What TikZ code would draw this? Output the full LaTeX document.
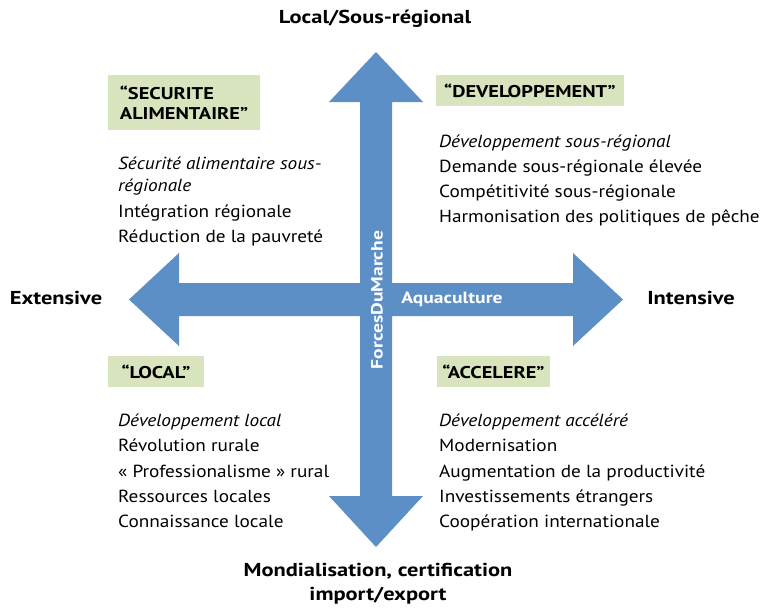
\documentclass[tikz,border=0pt]{standalone}
\usepackage{fontspec}
\setmainfont{PT Sans}[FakeStretch=1.1]
\newfontfamily\widebold{PT Sans}[FakeStretch=1.2]
\definecolor{arrowblue}{RGB}{91,143,198}
\definecolor{boxgreen}{RGB}{215,228,189}
\tikzset{
  item/.style={anchor=base west, inner sep=0pt, font=\fontsize{17.5}{20}\selectfont},
  axis/.style={inner sep=0pt, font=\widebold\fontsize{18.7}{24}\selectfont\bfseries, align=center},
  tag/.style={fill=boxgreen, inner sep=0pt, align=left, font=\widebold\fontsize{17}{20}\selectfont\bfseries},
  onarrow/.style={inner sep=0pt, text=white, font=\widebold\fontsize{16.3}{18}\selectfont\bfseries}
}
\begin{document}
\begin{tikzpicture}[x=1pt,y=-1pt]
\useasboundingbox (0,0) rectangle (760,608);
% cross of arrows
\fill[arrowblue] (376,52) -- (423,102) -- (392,102) -- (392,283) -- (573,283) -- (573,253)
  -- (623,299.5) -- (573,346) -- (573,316) -- (392,316) -- (392,496) -- (423,496)
  -- (376,547) -- (329,496) -- (360,496) -- (360,316) -- (179,316) -- (179,346)
  -- (129,299.5) -- (179,253) -- (179,283) -- (360,283) -- (360,102) -- (329,102) -- cycle;
\node[onarrow] (aqua) at (452,299) {Aquaculture};
\node[onarrow, rotate=90] (forces) at (377,300) {ForcesDuMarche};
% axis labels
\node[axis] (top) at (375,19) {Local/Sous-régional};
\node[axis] (left) at (56,298) {Extensive};
\node[axis] (right) at (691,298) {Intensive};
\node[axis] (bottom) at (378,584) {Mondialisation, certification\\import/export};
% tags
\node[tag, minimum width=152pt, minimum height=55pt] (tagSA) at (184,102.5) {“SECURITE\\ALIMENTAIRE”};
\node[tag, minimum width=188pt, minimum height=31pt] (tagDev) at (530,90.5) {“DEVELOPPEMENT”};
\node[tag, minimum width=96pt, minimum height=31pt] (tagLoc) at (156,371.5) {“LOCAL”};
\node[tag, minimum width=113pt, minimum height=31pt] (tagAcc) at (493.5,371.5) {“ACCELERE”};
% top left
\node[item] (tl1) at (118,169) {\itshape Sécurité alimentaire sous-};
\node[item] (tl2) at (118,191) {\itshape régionale};
\node[item] (tl3) at (118,217) {Intégration régionale};
\node[item] (tl4) at (118,242) {Réduction de la pauvreté};
% top right
\node[item] (tr1) at (439,147) {\itshape Développement sous-régional};
\node[item] (tr2) at (439,172) {Demande sous-régionale élevée};
\node[item] (tr3) at (439,197) {Compétitivité sous-régionale};
\node[item] (tr4) at (439,222) {Harmonisation des politiques de pêche};
% bottom left
\node[item] (bl1) at (118,426) {\itshape Développement local};
\node[item] (bl2) at (118,451.5) {Révolution rurale};
\node[item] (bl3) at (118,477) {« Professionalisme » rural};
\node[item] (bl4) at (118,502) {Ressources locales};
\node[item] (bl5) at (118,527.5) {Connaissance locale};
% bottom right
\node[item] (br1) at (439,426) {\itshape Développement accéléré};
\node[item] (br2) at (439,451.5) {Modernisation};
\node[item] (br3) at (439,477) {Augmentation de la productivité};
\node[item] (br4) at (439,502) {Investissements étrangers};
\node[item] (br5) at (439,527.5) {Coopération internationale};
\end{tikzpicture}
\end{document}
